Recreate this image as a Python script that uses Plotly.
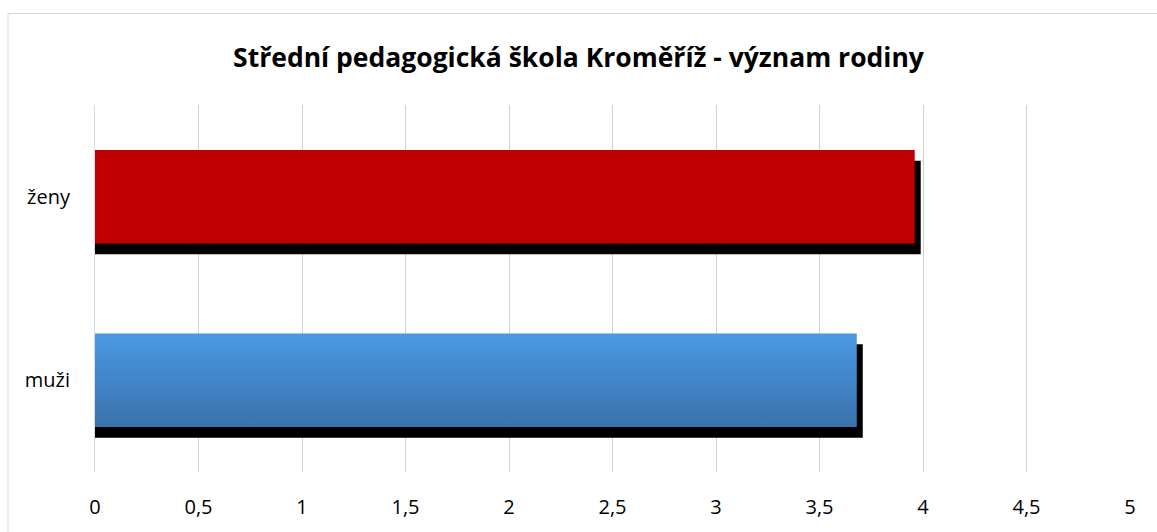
import plotly.graph_objects as go

categories = ["muži", "ženy"]
values = [3.68, 3.96]
title_text = "Střední pedagogická škola Kroměříž - význam rodiny"
x_ticks = [0, 0.5, 1, 1.5, 2, 2.5, 3, 3.5, 4, 4.5, 5]
x_tick_labels = ["0", "0,5", "1", "1,5", "2", "2,5", "3", "3,5", "4", "4,5", "5"]

BAR_W = 0.51
SH_DX = 0.029   # shadow shift right (data units, ~6px)
SH_DY = 0.059   # shadow shift down (category units, ~11px)

pos = list(range(len(categories)))

fig = go.Figure()

# shadows
fig.add_trace(go.Bar(
    x=[v + SH_DX for v in values], y=pos, orientation="h",
    width=BAR_W, offset=-BAR_W / 2 - SH_DY,
    marker=dict(color="#000000", line=dict(width=0)),
    hoverinfo="skip", showlegend=False,
))

# red bar (ženy)
fig.add_trace(go.Bar(
    x=[values[1]], y=[pos[1]], orientation="h",
    width=BAR_W, offset=-BAR_W / 2,
    marker=dict(color="#C00000", line=dict(width=0)),
    showlegend=False,
))

# blue gradient bar (muži) as filled polygon
v0 = values[0]
yc = pos[0]
fig.add_trace(go.Scatter(
    x=[0, v0, v0, 0, 0],
    y=[yc - BAR_W / 2, yc - BAR_W / 2, yc + BAR_W / 2, yc + BAR_W / 2, yc - BAR_W / 2],
    mode="lines", line=dict(width=0),
    fill="toself",
    fillgradient=dict(type="vertical", colorscale=[[0, "#3A72AC"], [1, "#4A99E4"]]),
    showlegend=False, hoverinfo="skip",
))

fig.update_layout(
    width=1157, height=532,
    margin=dict(l=95, r=27, t=105, b=54),
    paper_bgcolor="white", plot_bgcolor="white",
    barmode="overlay",
    separators=", ",
    title=dict(text="<b>" + title_text + "</b>", x=0.5, xanchor="center",
               y=1 - 58 / 532, yanchor="middle",
               font=dict(family="Open Sans", size=26.5, color="#000000")),
    font=dict(family="Open Sans", size=20, color="#000000"),
    xaxis=dict(range=[0, 5], tickvals=x_ticks, ticktext=x_tick_labels,
               showgrid=True, gridcolor="#D0D0D0", gridwidth=1,
               zeroline=False, showline=False, ticks="",
               ticklabelstandoff=21, tickfont=dict(size=20)),
    yaxis=dict(range=[-0.5, 1.5], tickvals=pos, ticktext=categories,
               showgrid=False, zeroline=False, showline=True,
               linecolor="#D6DCE4", linewidth=1, ticks="",
               ticklabelstandoff=20, tickfont=dict(size=20)),
    shapes=[dict(type="rect", xref="paper", yref="paper",
                 x0=-87 / 1035, x1=1.05, y0=-0.2, y1=1 + 93 / 373,
                 line=dict(color="#D9D9D9", width=1), layer="below")],
)

fig.write_html("out.html", config={"displayModeBar": False},
               post_script="document.body.style.margin='0';")
